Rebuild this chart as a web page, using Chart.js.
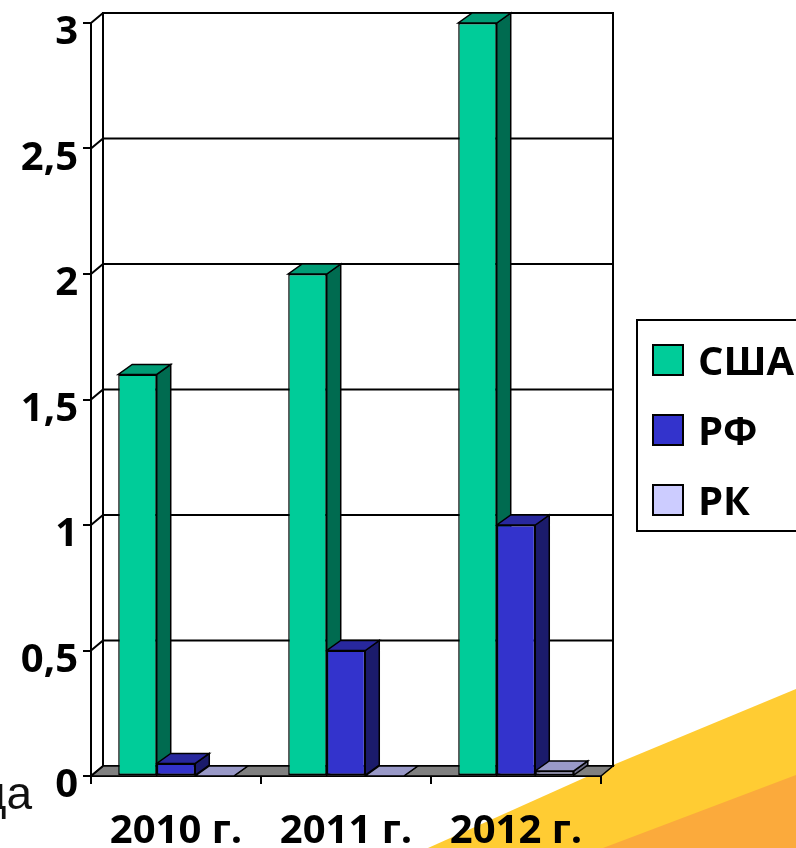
<!DOCTYPE html>
<html>
<head>
<meta charset="utf-8">
<style>
  html, body { margin: 0; padding: 0; background: #fff; overflow: hidden; }
  canvas { display: block; }
</style>
<script src="https://cdn.jsdelivr.net/npm/chart.js@4"></script>
</head>
<body>
<canvas id="chart" width="796" height="848"></canvas>
<script>
const categories = ['2010 г.', '2011 г.', '2012 г.'];
const usa = [1.6, 2, 3];
const rf = [0.05, 0.5, 1];
const rk = [0, 0, 0.02];

const wallX = 12, wallY = -10;   // depth of the floor and walls
const barX = 14, barY = -10;     // depth of the bars

// side and top colours of the fake 3d bars
const shades = {
  'США': { side: '#006B50', top: '#009C75' },
  'РФ': { side: '#1B1B6B', top: '#28289E' },
  'РК': { side: '#6B6B85', top: '#9999C8' }
};

function poly(ctx, pts, fill) {
  ctx.beginPath();
  pts.forEach((p, i) => i ? ctx.lineTo(p[0], p[1]) : ctx.moveTo(p[0], p[1]));
  ctx.closePath();
  if (fill) { ctx.fillStyle = fill; ctx.fill(); }
  ctx.stroke();
}

const scene = {
  id: 'scene',
  beforeDraw(chart) {
    const c = chart.ctx;
    c.save();
    // slide background
    c.fillStyle = '#FFCC33';
    c.beginPath();
    c.moveTo(796, 689); c.lineTo(613, 765); c.lineTo(428, 848); c.lineTo(796, 848);
    c.fill();
    c.fillStyle = '#FBAA3C';
    c.beginPath();
    c.moveTo(796, 775); c.lineTo(603, 848); c.lineTo(796, 848);
    c.fill();
    // leftover of the slide text behind the chart
    c.fillStyle = '#111';
    c.font = '46px "Liberation Sans", Arial, sans-serif';
    c.textBaseline = 'alphabetic';
    c.textAlign = 'right';
    c.fillText('да', 32, 809);
    c.restore();
  },
  beforeDatasetsDraw(chart) {
    const c = chart.ctx, a = chart.chartArea, y = chart.scales.y;
    c.save();
    c.strokeStyle = '#000';
    c.lineWidth = 2;
    // back wall
    poly(c, [[a.left + wallX, a.top + wallY], [a.right + wallX, a.top + wallY],
             [a.right + wallX, a.bottom + wallY], [a.left + wallX, a.bottom + wallY]], '#fff');
    // floor
    c.lineWidth = 1.5;
    poly(c, [[a.left, a.bottom], [a.right, a.bottom],
             [a.right + wallX, a.bottom + wallY], [a.left + wallX, a.bottom + wallY]], '#808080');
    // gridlines run across the back wall and down the left wall
    c.lineWidth = 2;
    y.ticks.forEach(t => {
      const py = y.getPixelForValue(t.value);
      c.beginPath();
      c.moveTo(a.left, py);
      c.lineTo(a.left + wallX, py + wallY);
      if (t.value > 0) c.lineTo(a.right + wallX, py + wallY);
      c.stroke();
    });
    // sides and tops go left to right so the next bar covers the one before it,
    // the fronts are the library's own bars drawn after this
    c.lineWidth = 1.5;
    chart.data.datasets.forEach((ds, i) => {
      const shade = shades[ds.label];
      chart.getDatasetMeta(i).data.forEach(bar => {
        const l = bar.x - bar.width / 2, r = bar.x + bar.width / 2;
        poly(c, [[r, bar.y], [r + barX, bar.y + barY], [r + barX, bar.base + barY], [r, bar.base]], shade.side);
        poly(c, [[l, bar.y], [r, bar.y], [r + barX, bar.y + barY], [l + barX, bar.y + barY]], shade.top);
      });
    });
    c.restore();
  },
  afterDraw(chart) {
    const c = chart.ctx;
    c.save();
    // legend box runs off the right edge of the picture
    c.fillStyle = '#fff';
    c.strokeStyle = '#000';
    c.lineWidth = 2;
    c.fillRect(637, 320, 170, 211);
    c.strokeRect(637, 320, 170, 211);
    c.font = 'bold 40px "Open Sans", sans-serif';
    c.textBaseline = 'middle';
    c.textAlign = 'left';
    const rows = [360, 430, 500];
    chart.data.datasets.forEach((ds, i) => {
      c.fillStyle = ds.backgroundColor;
      c.fillRect(653, rows[i] - 15, 30, 30);
      c.strokeRect(653, rows[i] - 15, 30, 30);
      c.fillStyle = '#000';
      c.fillText(ds.label, 698, rows[i] + 4);
    });
    c.restore();
  }
};

new Chart(document.getElementById('chart'), {
  type: 'bar',
  data: {
    labels: categories,
    datasets: [
      { label: 'США', data: usa, backgroundColor: '#00CC99' },
      { label: 'РФ', data: rf, backgroundColor: '#3333CC' },
      { label: 'РК', data: rk, backgroundColor: '#CCCCFF' }
    ].map(d => ({ ...d, borderColor: '#000', borderWidth: 1.5, borderSkipped: false, clip: false,
                  categoryPercentage: 0.68, barPercentage: 1 }))
  },
  options: {
    responsive: false,
    animation: false,
    layout: { padding: { top: 23, right: 195, left: 0, bottom: 0 } },
    plugins: { legend: { display: false }, tooltip: { enabled: false } },
    scales: {
      x: {
        afterFit(s) { s.height = 72; s.paddingLeft = 0; s.paddingRight = 0; },
        border: { color: '#000', width: 2 },
        grid: { drawOnChartArea: false, color: '#000', lineWidth: 2, tickLength: 8 },
        ticks: { color: '#000', font: { family: '"Open Sans", sans-serif', size: 40, weight: 'bold' }, padding: 24, maxRotation: 0, autoSkip: false }
      },
      y: {
        min: 0,
        max: 3,
        afterFit(s) { s.width = 91; s.paddingTop = 0; s.paddingBottom = 0; },
        border: { color: '#000', width: 2 },
        grid: { drawOnChartArea: false, color: '#000', lineWidth: 2, tickLength: 8 },
        ticks: {
          stepSize: 0.5,
          color: '#000',
          font: { family: '"Open Sans", sans-serif', size: 40, weight: 'bold' },
          padding: 5,
          labelOffset: 10,
          callback: v => String(v).replace('.', ',')
        }
      }
    }
  },
  plugins: [scene]
});
</script>
</body>
</html>
